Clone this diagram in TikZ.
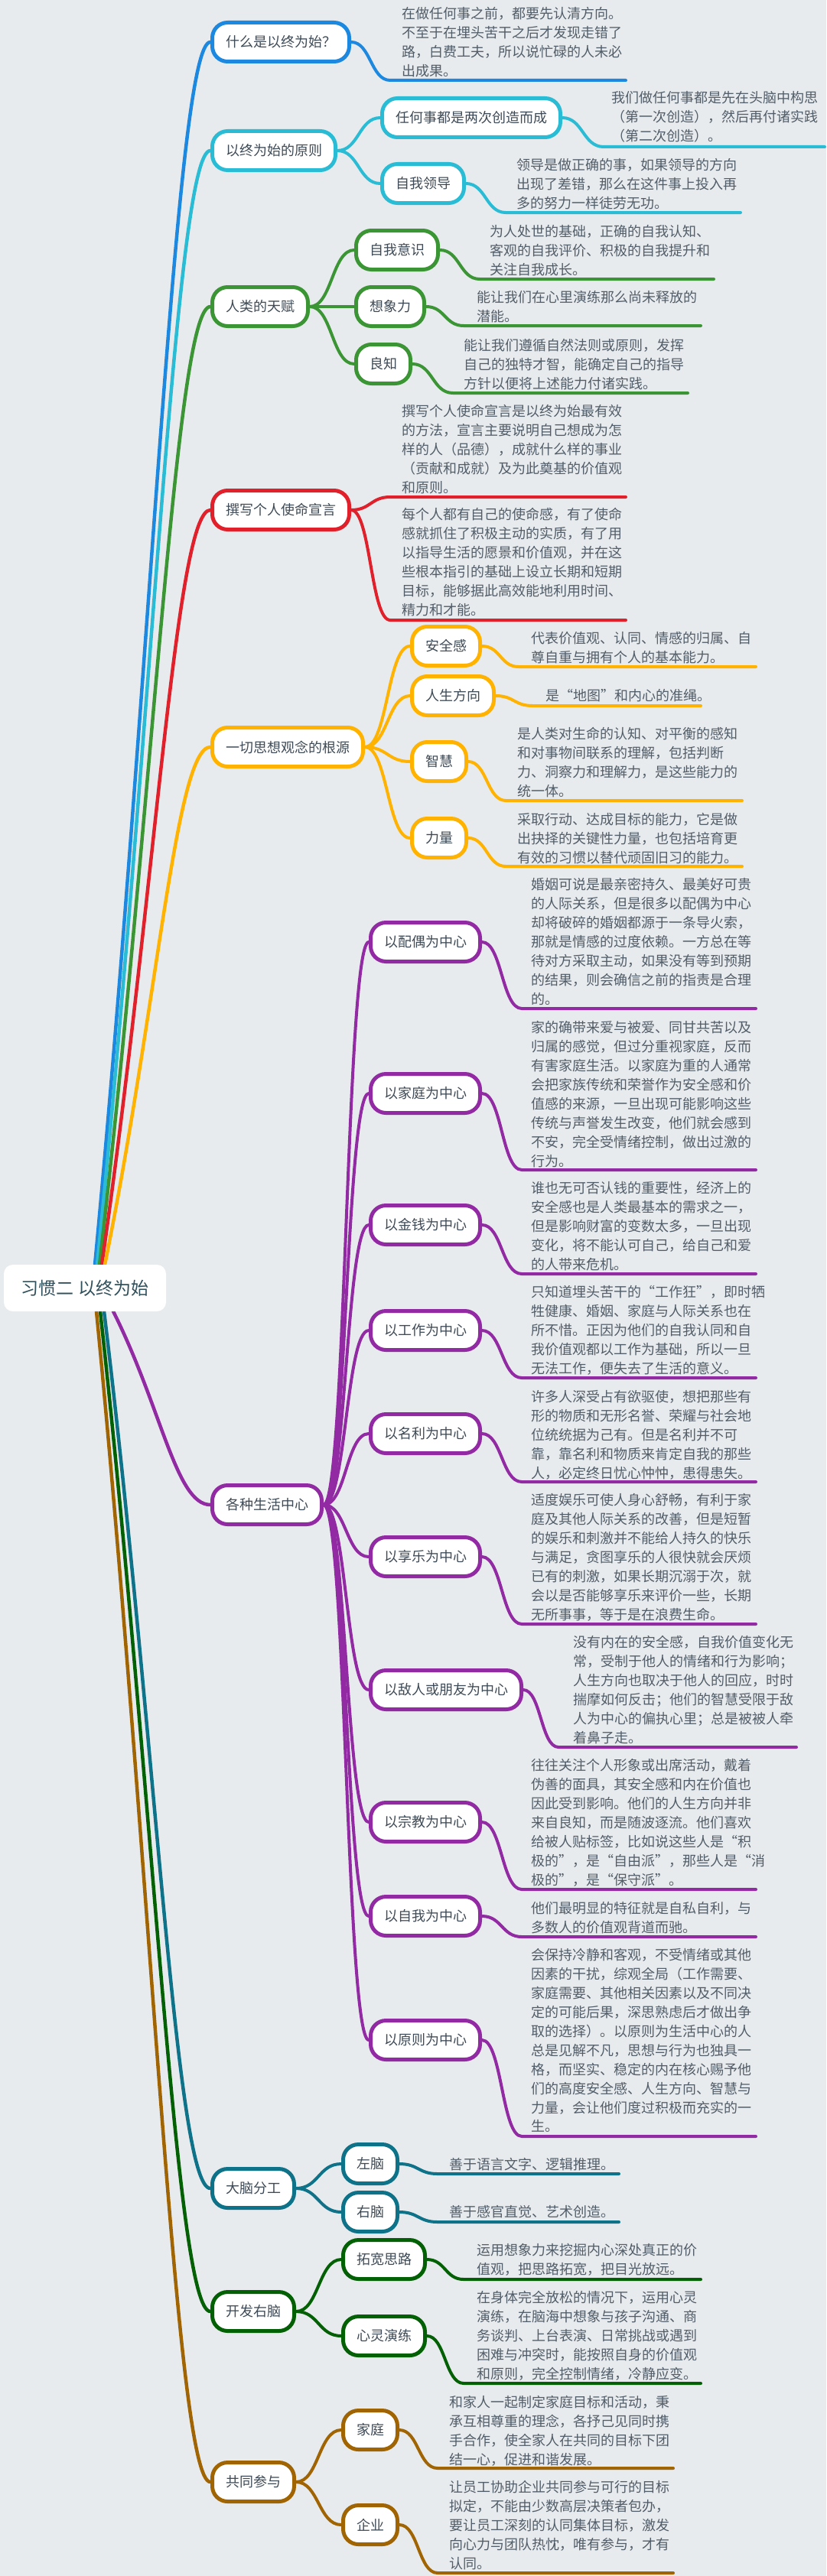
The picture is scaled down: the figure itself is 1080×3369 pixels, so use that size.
\documentclass[tikz,border=0pt]{standalone}
\usepackage{fontspec}
\newfontfamily\cjk{Noto Sans CJK SC}
\usetikzlibrary{calc}
\definecolor{bgc}{HTML}{E8EBEE}
\definecolor{cblue}{HTML}{1C88E0}
\definecolor{ccyan}{HTML}{2ABCD4}
\definecolor{cgreen}{HTML}{3B9534}
\definecolor{cred}{HTML}{E0202A}
\definecolor{corange}{HTML}{FFB300}
\definecolor{cpurple}{HTML}{922AA3}
\definecolor{cteal}{HTML}{0E7288}
\definecolor{cdkgreen}{HTML}{046004}
\definecolor{cbrown}{HTML}{A06402}
\definecolor{nodetext}{HTML}{3E4A55}
\definecolor{desctext}{HTML}{515D68}
\definecolor{roottext}{HTML}{30505C}
\pgfdeclarelayer{bg}
\pgfdeclarelayer{edges}
\pgfsetlayers{bg,edges,main}
\tikzset{
  mnode/.style={draw=#1, line width=5pt, fill=white, rounded corners=20pt, minimum height=51pt, inner xsep=17.5pt, inner ysep=0pt, text=nodetext, font=\cjk\fontsize{18}{22}\selectfont, anchor=west},
  desc/.style={anchor=base west, inner sep=0pt, text width=440pt, align=left, text=desctext, font=\cjk\fontsize{18}{24.9}\selectfont},
  conn/.style={draw=#1, line width=4pt, line cap=round},
}
\newcommand\sconn[3]{\draw[conn=#1] let \p1=(#2), \p2=(#3) in (\p1) .. controls (\x1/2+\x2/2,\y1) and (\x1/2+\x2/2,\y2) .. (\p2);}
\newcommand\uconn[4]{\draw[conn=#1] let \p1=(#2), \p2=(#3) in (\p1) .. controls (\x1/2+\x2/2,\y1) and (\x1/2+\x2/2,\y2) .. (\p2) -- (#4);}
\newcommand\rconn[3]{\draw[conn=#1, line width=4.5pt] let \p1=(#2), \p2=(#3) in (\p1) .. controls (\x1/2+\x2/2,\y1/2+\y2/2) and (\x2-45pt,\y2) .. (\p2);}
\newcommand\leaf[9]{%
  \coordinate (#1s) at (#4,#6); \coordinate (#1e) at (#5,#6);
  \node[desc] (#1t) at (#7,#8+6.8) {#9};
  \begin{pgfonlayer}{edges}\uconn{#2}{#3}{#1s}{#1e}\end{pgfonlayer}}
\begin{document}
\begin{tikzpicture}[x=1pt,y=-1pt]
\useasboundingbox (0,0) rectangle (1080,3369);
\begin{pgfonlayer}{bg}
\fill[bgc] (0,0) rectangle (1080,3369);
\end{pgfonlayer}

% root
\node[fill=white, rounded corners=12pt, minimum width=212pt, minimum height=61pt, inner sep=0pt, text=roottext, font=\cjk\fontsize{23}{28}\selectfont] (root) at (111,1684.5) {习惯二 以终为始};
\coordinate (ra) at (124,1654);
\coordinate (rb) at (127,1654);
\coordinate (rc) at (130,1654);
\coordinate (rd) at (133,1654);
\coordinate (re) at (137,1654);
\coordinate (rf) at (148,1715);
\coordinate (rg) at (136,1715);
\coordinate (rh) at (131,1715);
\coordinate (ri) at (126,1715);

% level 1
\node[mnode=cblue] (La) at (275,55) {什么是以终为始？};
\node[mnode=ccyan] (Lb) at (275,197) {以终为始的原则};
\node[mnode=cgreen] (Lc) at (275,401) {人类的天赋};
\node[mnode=cred] (Ld) at (275,667) {撰写个人使命宣言};
\node[mnode=corange] (Le) at (275,977) {一切思想观念的根源};
\node[mnode=cpurple] (Lf) at (275,1968) {各种生活中心};
\node[mnode=cteal] (Lg) at (275,2862) {大脑分工};
\node[mnode=cdkgreen] (Lh) at (275,3023) {开发右脑};
\node[mnode=cbrown] (Li) at (275,3246) {共同参与};

% level 2
\node[mnode=ccyan] (b1) at (497,154) {任何事都是两次创造而成};
\node[mnode=ccyan] (b2) at (497,240) {自我领导};
\node[mnode=cgreen] (c1) at (463,327) {自我意识};
\node[mnode=cgreen] (c2) at (463,401) {想象力};
\node[mnode=cgreen] (c3) at (463,476) {良知};
\node[mnode=corange] (e1) at (536,845) {安全感};
\node[mnode=corange] (e2) at (536,910) {人生方向};
\node[mnode=corange] (e3) at (536,996) {智慧};
\node[mnode=corange] (e4) at (536,1096) {力量};
\node[mnode=cpurple] (f1) at (482,1232) {以配偶为中心};
\node[mnode=cpurple] (f2) at (482,1430) {以家庭为中心};
\node[mnode=cpurple] (f3) at (482,1602) {以金钱为中心};
\node[mnode=cpurple] (f4) at (482,1740) {以工作为中心};
\node[mnode=cpurple] (f5) at (482,1875) {以名利为中心};
\node[mnode=cpurple] (f6) at (482,2036) {以享乐为中心};
\node[mnode=cpurple] (f7) at (482,2210) {以敌人或朋友为中心};
\node[mnode=cpurple] (f8) at (482,2383) {以宗教为中心};
\node[mnode=cpurple] (f9) at (482,2506) {以自我为中心};
\node[mnode=cpurple] (f10) at (482,2668) {以原则为中心};
\node[mnode=cteal] (g1) at (446,2830) {左脑};
\node[mnode=cteal] (g2) at (446,2893) {右脑};
\node[mnode=cdkgreen] (h1) at (446,2955) {拓宽思路};
\node[mnode=cdkgreen] (h2) at (446,3055) {心灵演练};
\node[mnode=cbrown] (i1) at (446,3178) {家庭};
\node[mnode=cbrown] (i2) at (446,3302) {企业};

% root edges and level-1 to level-2 edges
\begin{pgfonlayer}{edges}
\rconn{cblue}{ra}{La.west}
\rconn{ccyan}{rb}{Lb.west}
\rconn{cgreen}{rc}{Lc.west}
\rconn{cred}{rd}{Ld.west}
\rconn{corange}{re}{Le.west}
\rconn{cpurple}{rf}{Lf.west}
\rconn{cteal}{rg}{Lg.west}
\rconn{cdkgreen}{rh}{Lh.west}
\rconn{cbrown}{ri}{Li.west}
\sconn{ccyan}{Lb.east}{b1.west}
\sconn{ccyan}{Lb.east}{b2.west}
\sconn{cgreen}{Lc.east}{c1.west}
\sconn{cgreen}{Lc.east}{c2.west}
\sconn{cgreen}{Lc.east}{c3.west}
\sconn{corange}{Le.east}{e1.west}
\sconn{corange}{Le.east}{e2.west}
\sconn{corange}{Le.east}{e3.west}
\sconn{corange}{Le.east}{e4.west}
\sconn{cpurple}{Lf.east}{f1.west}
\sconn{cpurple}{Lf.east}{f2.west}
\sconn{cpurple}{Lf.east}{f3.west}
\sconn{cpurple}{Lf.east}{f4.west}
\sconn{cpurple}{Lf.east}{f5.west}
\sconn{cpurple}{Lf.east}{f6.west}
\sconn{cpurple}{Lf.east}{f7.west}
\sconn{cpurple}{Lf.east}{f8.west}
\sconn{cpurple}{Lf.east}{f9.west}
\sconn{cpurple}{Lf.east}{f10.west}
\sconn{cteal}{Lg.east}{g1.west}
\sconn{cteal}{Lg.east}{g2.west}
\sconn{cdkgreen}{Lh.east}{h1.west}
\sconn{cdkgreen}{Lh.east}{h2.west}
\sconn{cbrown}{Li.east}{i1.west}
\sconn{cbrown}{Li.east}{i2.west}
\end{pgfonlayer}

% leaves: name, colour, from, us, ue, uy, tx, first-line y, text
\leaf{ta}{cblue}{La.east}{510}{818}{105}{525}{18}{在做任何事之前，都要先认清方向。\\不至于在埋头苦干之后才发现走错了\\路，白费工夫，所以说忙碌的人未必\\出成果。}
\leaf{tba}{ccyan}{b1.east}{789}{1078}{192}{799}{128}{我们做任何事都是先在头脑中构思\\（第一次创造），然后再付诸实践\\（第二次创造）。}
\leaf{tbb}{ccyan}{b2.east}{661}{968}{278}{675}{216}{领导是做正确的事，如果领导的方向\\出现了差错，那么在这件事上投入再\\多的努力一样徒劳无功。}
\leaf{tca}{cgreen}{c1.east}{627}{933}{365}{640}{303}{为人处世的基础，正确的自我认知、\\客观的自我评价、积极的自我提升和\\关注自我成长。}
\leaf{tcb}{cgreen}{c2.east}{606}{916}{426}{623}{389}{能让我们在心里演练那么尚未释放的\\潜能。}
\leaf{tcc}{cgreen}{c3.east}{592}{899}{514}{606}{452}{能让我们遵循自然法则或原则，发挥\\自己的独特才智，能确定自己的指导\\方针以便将上述能力付诸实践。}
\leaf{tda}{cred}{Ld.east}{510}{818}{650}{525}{538}{撰写个人使命宣言是以终为始最有效\\的方法，宣言主要说明自己想成为怎\\样的人（品德），成就什么样的事业\\（贡献和成就）及为此奠基的价值观\\和原则。}
\leaf{tdb}{cred}{Ld.east}{510}{818}{811}{525}{673}{每个人都有自己的使命感，有了使命\\感就抓住了积极主动的实质，有了用\\以指导生活的愿景和价值观，并在这\\些根本指引的基础上设立长期和短期\\目标，能够据此高效能地利用时间、\\精力和才能。}
\leaf{tea}{corange}{e1.east}{678}{988}{872}{694}{835}{代表价值观、认同、情感的归属、自\\尊自重与拥有个人的基本能力。}
\leaf{teb}{corange}{e2.east}{696}{916}{923}{713}{910}{是“地图”和内心的准绳。}
\leaf{tec}{corange}{e3.east}{661}{970}{1047}{676}{960}{是人类对生命的认知、对平衡的感知\\和对事物间联系的理解，包括判断\\力、洞察力和理解力，是这些能力的\\统一体。}
\leaf{ted}{corange}{e4.east}{661}{970}{1133}{676}{1072}{采取行动、达成目标的能力，它是做\\出抉择的关键性力量，也包括培育更\\有效的习惯以替代顽固旧习的能力。}
\leaf{tfa}{cpurple}{f1.east}{682}{988}{1319}{694}{1157}{婚姻可说是最亲密持久、最美好可贵\\的人际关系，但是很多以配偶为中心\\却将破碎的婚姻都源于一条导火索，\\那就是情感的过度依赖。一方总在等\\待对方采取主动，如果没有等到预期\\的结果，则会确信之前的指责是合理\\的。}
\leaf{tfb}{cpurple}{f2.east}{682}{988}{1530}{694}{1344}{家的确带来爱与被爱、同甘共苦以及\\归属的感觉，但过分重视家庭，反而\\有害家庭生活。以家庭为重的人通常\\会把家族传统和荣誉作为安全感和价\\值感的来源，一旦出现可能影响这些\\传统与声誉发生改变，他们就会感到\\不安，完全受情绪控制，做出过激的\\行为。}
\leaf{tfc}{cpurple}{f3.east}{682}{988}{1666}{694}{1554}{谁也无可否认钱的重要性，经济上的\\安全感也是人类最基本的需求之一，\\但是影响财富的变数太多，一旦出现\\变化，将不能认可自己，给自己和爱\\的人带来危机。}
\leaf{tfd}{cpurple}{f4.east}{682}{988}{1802}{694}{1690}{只知道埋头苦干的“工作狂”，即时牺\\牲健康、婚姻、家庭与人际关系也在\\所不惜。正因为他们的自我认同和自\\我价值观都以工作为基础，所以一旦\\无法工作，便失去了生活的意义。}
\leaf{tfe}{cpurple}{f5.east}{682}{988}{1938}{694}{1827}{许多人深受占有欲驱使，想把那些有\\形的物质和无形名誉、荣耀与社会地\\位统统据为己有。但是名利并不可\\靠，靠名利和物质来肯定自我的那些\\人，必定终日忧心忡忡，患得患失。}
\leaf{tff}{cpurple}{f6.east}{682}{988}{2124}{694}{1962}{适度娱乐可使人身心舒畅，有利于家\\庭及其他人际关系的改善，但是短暂\\的娱乐和刺激并不能给人持久的快乐\\与满足，贪图享乐的人很快就会厌烦\\已有的刺激，如果长期沉溺于次，就\\会以是否能够享乐来评价一些，长期\\无所事事，等于是在浪费生命。}
\leaf{tfg}{cpurple}{f7.east}{730}{1041}{2285}{749}{2148}{没有内在的安全感，自我价值变化无\\常，受制于他人的情绪和行为影响；\\人生方向也取决于他人的回应，时时\\揣摩如何反击；他们的智慧受限于敌\\人为中心的偏执心里；总是被被人牵\\着鼻子走。}
\leaf{tfh}{cpurple}{f8.east}{682}{988}{2471}{694}{2309}{往往关注个人形象或出席活动，戴着\\伪善的面具，其安全感和内在价值也\\因此受到影响。他们的人生方向并非\\来自良知，而是随波逐流。他们喜欢\\给被人贴标签，比如说这些人是“积\\极的”，是“自由派”，那些人是“消\\极的”，是“保守派”。}
\leaf{tfi}{cpurple}{f9.east}{682}{988}{2533}{694}{2496}{他们最明显的特征就是自私自利，与\\多数人的价值观背道而驰。}
\leaf{tfj}{cpurple}{f10.east}{682}{988}{2794}{694}{2557}{会保持冷静和客观，不受情绪或其他\\因素的干扰，综观全局（工作需要、\\家庭需要、其他相关因素以及不同决\\定的可能后果，深思熟虑后才做出争\\取的选择）。以原则为生活中心的人\\总是见解不凡，思想与行为也独具一\\格，而坚实、稳定的内在核心赐予他\\们的高度安全感、人生方向、智慧与\\力量，会让他们度过积极而充实的一\\生。}
\leaf{tga}{cteal}{g1.east}{572}{809}{2843}{587}{2831}{善于语言文字、逻辑推理。}
\leaf{tgb}{cteal}{g2.east}{572}{809}{2906}{587}{2893}{善于感官直觉、艺术创造。}
\leaf{tha}{cdkgreen}{h1.east}{606}{916}{2981}{623}{2943}{运用想象力来挖掘内心深处真正的价\\值观，把思路拓宽，把目光放远。}
\leaf{thb}{cdkgreen}{h2.east}{606}{916}{3117}{623}{3005}{在身体完全放松的情况下，运用心灵\\演练，在脑海中想象与孩子沟通、商\\务谈判、上台表演、日常挑战或遇到\\困难与冲突时，能按照自身的价值观\\和原则，完全控制情绪，冷静应变。}
\leaf{tia}{cbrown}{i1.east}{572}{880}{3228}{587}{3142}{和家人一起制定家庭目标和活动，秉\\承互相尊重的理念，各抒己见同时携\\手合作，使全家人在共同的目标下团\\结一心，促进和谐发展。}
\leaf{tib}{cbrown}{i2.east}{572}{880}{3365}{587}{3253}{让员工协助企业共同参与可行的目标\\拟定，不能由少数高层决策者包办，\\要让员工深刻的认同集体目标，激发\\向心力与团队热忱，唯有参与，才有\\认同。}
\end{tikzpicture}
\end{document}
